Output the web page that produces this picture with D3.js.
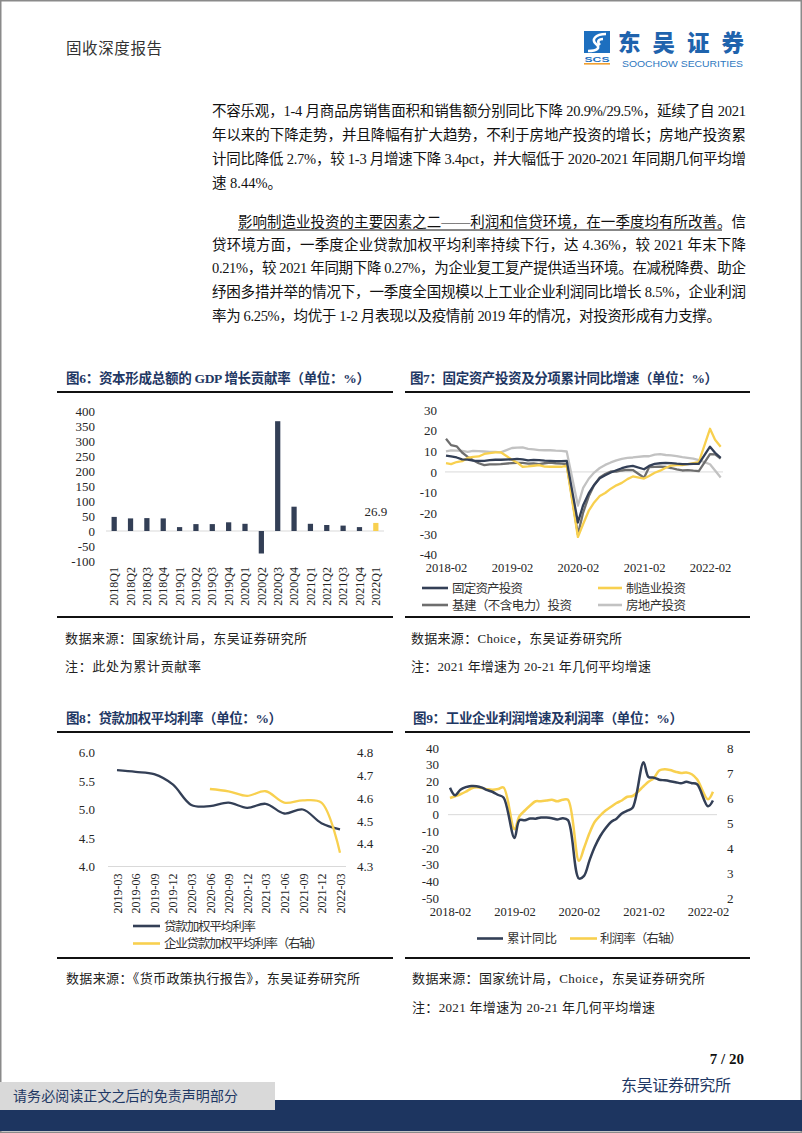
<!DOCTYPE html>
<html><head><meta charset="utf-8">
<script src="https://cdn.jsdelivr.net/npm/d3@7"></script>
<style>body{margin:0;background:#fff}svg{display:block}</style>
</head><body>
<svg id="page" width="802" height="1133"></svg>
<script>
// ---------------- DATA ----------------
const gdpCategories = ["2018Q1","2018Q2","2018Q3","2018Q4","2019Q1","2019Q2","2019Q3","2019Q4","2020Q1","2020Q2","2020Q3","2020Q4","2021Q1","2021Q2","2021Q3","2021Q4","2022Q1"];
const gdpValues = [47,42,43,42,13,23,23,29,24,-75,366,81,24,20,18,13,26.9];
const gdpTicks = [-100,-50,0,50,100,150,200,250,300,350,400];

const faiMonths = ["2018-02","2018-03","2018-04","2018-05","2018-06","2018-07","2018-08","2018-09","2018-10","2018-11","2018-12",
"2019-02","2019-03","2019-04","2019-05","2019-06","2019-07","2019-08","2019-09","2019-10","2019-11","2019-12",
"2020-02","2020-03","2020-04","2020-05","2020-06","2020-07","2020-08","2020-09","2020-10","2020-11","2020-12",
"2021-02","2021-03","2021-04","2021-05","2021-06","2021-07","2021-08","2021-09","2021-10","2021-11","2021-12",
"2022-02","2022-03","2022-04"];
const faiTotal = [7.9,7.5,7.0,6.1,6.0,5.5,5.3,5.4,5.7,5.9,5.9,
6.1,6.3,6.1,5.6,5.8,5.7,5.5,5.4,5.2,5.2,5.4,
-24.5,-16.1,-10.3,-6.3,-3.1,-1.6,-0.3,0.8,1.8,2.6,2.9,
1.3,2.9,3.9,4.2,4.4,4.3,4.0,3.8,3.8,3.9,3.9,
12.2,9.3,6.8];
const faiManufacturing = [4.3,3.8,4.8,5.2,6.8,7.3,7.5,8.7,9.1,9.5,9.5,
5.9,4.6,2.5,2.7,3.0,3.3,2.6,2.5,2.6,2.5,3.1,
-31.5,-25.2,-18.8,-14.8,-11.7,-10.2,-8.1,-6.5,-5.3,-3.5,-2.2,
-3.2,-2.0,-0.4,0.6,2.0,3.1,3.3,3.3,3.8,4.3,4.8,
20.9,15.6,12.2];
const faiInfra = [16.1,13.0,12.4,9.4,7.3,5.7,4.2,3.3,3.7,3.7,3.8,
4.3,4.4,4.4,4.0,4.1,3.8,4.2,4.5,4.2,4.0,3.8,
-30.3,-19.7,-11.8,-6.3,-2.7,-1.0,0.2,0.2,0.7,1.0,0.9,
-2.8,2.3,2.4,2.6,2.4,1.9,1.2,0.7,0.9,0.6,0.4,
8.6,8.5,6.5];
const faiRealEstate = [9.9,10.4,10.3,10.2,9.7,10.2,10.1,9.9,9.7,9.7,9.5,
11.6,11.8,11.9,11.2,10.9,10.6,10.5,10.5,10.3,10.2,9.9,
-16.3,-7.7,-3.3,-0.3,1.9,3.4,4.6,5.6,6.3,6.8,7.0,
7.6,7.6,8.4,8.6,8.2,8.0,7.7,7.2,6.8,6.4,5.7,
3.7,0.7,-2.7];
const faiTicks = [-40,-30,-20,-10,0,10,20,30];
const yearTickLabels = ["2018-02","2019-02","2020-02","2021-02","2022-02"];

const rateQuarters = ["2019-03","2019-06","2019-09","2019-12","2020-03","2020-06","2020-09","2020-12","2021-03","2021-06","2021-09","2021-12","2022-03"];
const loanRate = [5.69,5.66,5.62,5.44,5.08,5.06,5.12,5.03,5.10,4.93,5.00,4.76,4.65];
const corpLoanRate = [null,null,null,null,null,4.64,4.63,4.61,4.63,4.58,4.59,4.58,4.36];
const rateTicksLeft = [4.0,4.5,5.0,5.5,6.0];
const rateTicksRight = [4.3,4.4,4.5,4.6,4.7,4.8];

const profitMonths = ["2018-02","2018-03","2018-04","2018-05","2018-06","2018-07","2018-08","2018-09","2018-10","2018-11","2018-12",
"2019-02","2019-03","2019-04","2019-05","2019-06","2019-07","2019-08","2019-09","2019-10","2019-11","2019-12",
"2020-02","2020-03","2020-04","2020-05","2020-06","2020-07","2020-08","2020-09","2020-10","2020-11","2020-12",
"2021-02","2021-03","2021-04","2021-05","2021-06","2021-07","2021-08","2021-09","2021-10","2021-11","2021-12",
"2022-02","2022-03"];
const profitYoY = [16.1,11.6,15.0,16.5,17.2,17.1,16.2,14.7,13.6,11.8,10.3,
-14.0,-3.3,-3.4,-2.3,-2.4,-1.7,-1.7,-2.1,-2.9,-2.1,-3.3,
-38.3,-36.7,-27.4,-19.3,-12.8,-8.1,-4.4,-2.4,0.7,2.4,4.1,
31.4,22.6,22.2,21.0,20.6,20.1,19.5,18.8,19.7,18.9,18.2,
5.0,8.5];
const profitMargin = [6.0,6.07,6.15,6.25,6.38,6.43,6.4,6.35,6.33,6.36,6.42,
4.75,5.27,5.5,5.7,5.87,5.87,5.9,5.93,5.87,5.93,5.93,
3.49,4.0,4.6,5.05,5.3,5.5,5.65,5.8,5.9,6.05,6.08,
6.47,6.65,6.8,7.1,7.15,7.12,7.05,7.0,7.02,6.95,6.75,
5.95,6.25];
const profitTicksLeft = [-50,-40,-30,-20,-10,0,10,20,30,40];
const profitTicksRight = [2,3,4,5,6,7,8];

const bodyLines = [
 "不容乐观，1-4 月商品房销售面积和销售额分别同比下降 20.9%/29.5%，延续了自 2021",
 "年以来的下降走势，并且降幅有扩大趋势，不利于房地产投资的增长；房地产投资累",
 "计同比降低 2.7%，较 1-3 月增速下降 3.4pct，并大幅低于 2020-2021 年同期几何平均增",
 "速 8.44%。",
 "影响制造业投资的主要因素之二——利润和信贷环境，在一季度均有所改善。信",
 "贷环境方面，一季度企业贷款加权平均利率持续下行，达 4.36%，较 2021 年末下降",
 "0.21%，较 2021 年同期下降 0.27%，为企业复工复产提供适当环境。在减税降费、助企",
 "纾困多措并举的情况下，一季度全国规模以上工业企业利润同比增长 8.5%，企业利润",
 "率为 6.25%，均优于 1-2 月表现以及疫情前 2019 年的情况，对投资形成有力支撑。"
];

// ---------------- STYLE ----------------
const FONT = '"Liberation Serif","Times New Roman","Noto Sans CJK SC",serif';
const NAVY = "#333f56", YELLOW = "#f8d04f", DGREY = "#6e6e6e", LGREY = "#c2c2c2", TITLE = "#1f3864";
const svg = d3.select("#page");
const parseM = d3.timeParse("%Y-%m");
const plain = d => String(d);   // keeps the ASCII hyphen for negatives, as in the reference

// page border
svg.append("rect").attr("x",0.75).attr("y",0.75).attr("width",800.5).attr("height",1131.5)
  .attr("fill","none").attr("stroke","#8a8a8a").attr("stroke-width",1.5);

// ---------------- HEADER ----------------
svg.append("text").attr("x",66).attr("y",54).attr("font-family",FONT).attr("font-size",15.5)
  .attr("fill","#333").attr("textLength",96).attr("lengthAdjust","spacing").text("固收深度报告");
// logo
const logo = svg.append("g");
logo.append("rect").attr("x",584).attr("y",31).attr("width",26).attr("height",22).attr("fill","#1d6fbf");
logo.append("path").attr("d","M606,34 C595,34 591,40 596,44 C601,48 597,51 588,51 M603,39 C598,39 597,42 600,45")
  .attr("fill","none").attr("stroke","#fff").attr("stroke-width",2.6);
logo.append("text").attr("x",597).attr("y",61.5).attr("text-anchor","middle").attr("font-family","Liberation Sans,sans-serif")
  .attr("font-weight",700).attr("font-size",7.5).attr("fill","#1d6fbf").attr("textLength",25).attr("lengthAdjust","spacingAndGlyphs").text("SCS");
logo.append("rect").attr("x",584).attr("y",63).attr("width",26).attr("height",1.6).attr("fill","#f0a030");
logo.append("text").attr("x",618).attr("y",51).attr("font-family","Noto Sans CJK SC").attr("font-weight",900)
  .attr("font-size",22.5).attr("fill","#1f63ad").attr("textLength",126).attr("lengthAdjust","spacing").text("东吴证券");
logo.append("text").attr("x",622).attr("y",66.5).attr("font-family","Liberation Sans,sans-serif")
  .attr("font-size",9.5).attr("fill","#2e78c0").attr("textLength",121).attr("lengthAdjust","spacingAndGlyphs").text("SOOCHOW SECURITIES");

// ---------------- BODY ----------------
const bodyY = [115.5,139.5,163.5,187.5,226.5,249.5,272.5,296.5,320.5];
const bodyX = [212,212,212,212,238,212,212,212,212];
const bodyEnd = [746,746,746,null,746,746,746,746,721];
bodyLines.forEach((s,i)=>{
  const t = svg.append("text").attr("x",bodyX[i]).attr("y",bodyY[i]).attr("font-family",FONT)
    .attr("font-size",14.5).attr("fill","#111").text(s);
  if (bodyEnd[i]) t.attr("textLength",bodyEnd[i]-bodyX[i]).attr("lengthAdjust","spacing");
});
svg.append("line").attr("x1",238).attr("x2",722).attr("y1",230).attr("y2",230).attr("stroke","#111").attr("stroke-width",1);

// ---------------- helpers ----------------
function title(x,y,str,len){
  svg.append("text").attr("x",x).attr("y",y).attr("font-family",FONT).attr("font-weight",700)
    .attr("font-size",13.5).attr("fill",TITLE).attr("textLength",len).attr("lengthAdjust","spacing").text(str);
}
function hrule(x1,x2,y){
  svg.append("line").attr("x1",x1).attr("x2",x2).attr("y1",y).attr("y2",y).attr("stroke","#111").attr("stroke-width",2);
}
function note(x,y,str,len){
  svg.append("text").attr("x",x).attr("y",y).attr("font-family",FONT).attr("font-size",13)
    .attr("fill","#222").attr("textLength",len).attr("lengthAdjust","spacing").text(str);
}
function styleAxis(g,size){
  g.attr("font-family",FONT).attr("font-size",size||13);
  g.select(".domain").remove();
  g.selectAll("text").attr("fill","#262626");
}
function legend(x1,x2,y,color,str,tx,len){
  svg.append("line").attr("x1",x1).attr("x2",x2).attr("y1",y).attr("y2",y).attr("stroke",color).attr("stroke-width",2.6);
  svg.append("text").attr("x",tx).attr("y",y+4.5).attr("font-family",FONT).attr("font-size",12.5)
    .attr("fill","#333").attr("textLength",len).attr("lengthAdjust","spacing").text(str);
}

// ---------------- CHART 6 ----------------
title(66,383,"图6：资本形成总额的 GDP 增长贡献率（单位：%）",304);
hrule(57,393,392); hrule(57,393,617);
const x6 = d3.scaleBand().domain(gdpCategories).range([106,384]).paddingInner(0.68).paddingOuter(0.34);
const y6 = d3.scaleLinear().domain([-100,400]).range([561,411]);
svg.append("line").attr("x1",106).attr("x2",384).attr("y1",y6(0)).attr("y2",y6(0)).attr("stroke","#d9d9d9").attr("stroke-width",1);
svg.append("g").selectAll("rect").data(gdpValues).join("rect")
  .attr("x",(d,i)=>x6(gdpCategories[i])).attr("width",x6.bandwidth())
  .attr("y",d=>y6(Math.max(0,d))).attr("height",d=>Math.abs(y6(d)-y6(0)))
  .attr("fill",(d,i)=>i===gdpValues.length-1?YELLOW:NAVY);
const lastI = gdpValues.length-1;
svg.append("text").attr("x",x6(gdpCategories[lastI])+x6.bandwidth()/2).attr("y",y6(gdpValues[lastI])-7)
  .attr("text-anchor","middle").attr("font-family",FONT).attr("font-size",13).attr("fill","#262626").text(gdpValues[lastI]);
const ya6 = svg.append("g").attr("transform","translate(106,0)").call(d3.axisLeft(y6).tickValues(gdpTicks).tickFormat(plain).tickSize(0).tickPadding(11));
styleAxis(ya6,13);
const xa6 = svg.append("g").attr("transform",`translate(0,${y6(-100)})`).call(d3.axisBottom(x6).tickSize(0));
styleAxis(xa6,12);
xa6.selectAll("text").attr("transform","rotate(-90)").attr("text-anchor","end").attr("x",-6).attr("y",0).attr("dy","0.35em");

// ---------------- CHART 7 ----------------
title(410,383,"图7：固定资产投资及分项累计同比增速（单位：%）",308);
hrule(405,750,392); hrule(405,750,617);
const x7 = d3.scaleTime().domain([parseM("2018-02"),parseM("2022-02")]).range([446,710]);
const y7 = d3.scaleLinear().domain([-40,30]).range([554.5,410]);
svg.append("line").attr("x1",445).attr("x2",723).attr("y1",y7(0)).attr("y2",y7(0)).attr("stroke","#d9d9d9").attr("stroke-width",1);
const ln7 = d3.line().x((d,i)=>x7(parseM(faiMonths[i]))).y(d=>y7(d));
[[faiRealEstate,LGREY],[faiInfra,DGREY],[faiManufacturing,YELLOW],[faiTotal,NAVY]].forEach(([arr,c])=>{
  svg.append("path").datum(arr).attr("d",ln7).attr("fill","none").attr("stroke",c).attr("stroke-width",2.3).attr("stroke-linejoin","round");
});
const ya7 = svg.append("g").attr("transform","translate(445,0)").call(d3.axisLeft(y7).tickValues(faiTicks).tickFormat(plain).tickSize(0).tickPadding(8));
styleAxis(ya7,13);
const xa7 = svg.append("g").attr("transform",`translate(0,${y7(-40)})`)
  .call(d3.axisBottom(x7).tickValues(yearTickLabels.map(parseM)).tickFormat(d3.timeFormat("%Y-%m")).tickSize(0).tickPadding(9));
styleAxis(xa7,12.5);
legend(422,448,588,NAVY,"固定资产投资",452,71);
legend(598,622,588,YELLOW,"制造业投资",626,60);
legend(422,448,605,DGREY,"基建（不含电力）投资",452,120);
legend(598,622,605,LGREY,"房地产投资",626,60);

note(65,642.5,"数据来源：国家统计局，东吴证券研究所",242);
note(65,671,"注：此处为累计贡献率",136);
note(411,642.5,"数据来源：Choice，东吴证券研究所",211);
note(411,671,"注：2021 年增速为 20-21 年几何平均增速",240);

// ---------------- CHART 8 ----------------
title(66,723,"图8：贷款加权平均利率（单位：%）",216);
hrule(57,393,732); hrule(57,393,958);
const x8 = d3.scalePoint().domain(rateQuarters).range([117,340]);
const yl8 = d3.scaleLinear().domain([4,6]).range([866.5,752.5]);
const yr8 = d3.scaleLinear().domain([4.3,4.8]).range([866.5,752.5]);
svg.append("line").attr("x1",108).attr("x2",346).attr("y1",866.5).attr("y2",866.5).attr("stroke","#d9d9d9").attr("stroke-width",1.2);
svg.append("path").datum(loanRate).attr("fill","none").attr("stroke",NAVY).attr("stroke-width",2.3)
  .attr("d",d3.line().x((d,i)=>x8(rateQuarters[i])).y(d=>yl8(d)).curve(d3.curveCatmullRom.alpha(0.5)));
svg.append("path").datum(corpLoanRate).attr("fill","none").attr("stroke",YELLOW).attr("stroke-width",2.3)
  .attr("d",d3.line().defined(d=>d!=null).x((d,i)=>x8(rateQuarters[i])).y(d=>yr8(d)).curve(d3.curveCatmullRom.alpha(0.5)));
const yl8a = svg.append("g").attr("transform","translate(108,0)").call(d3.axisLeft(yl8).tickValues(rateTicksLeft).tickFormat(d3.format(".1f")).tickSize(0).tickPadding(13));
styleAxis(yl8a,13);
const yr8a = svg.append("g").attr("transform","translate(345,0)").call(d3.axisRight(yr8).tickValues(rateTicksRight).tickFormat(d3.format(".1f")).tickSize(0).tickPadding(12));
styleAxis(yr8a,13);
const xa8 = svg.append("g").attr("transform","translate(0,866.5)").call(d3.axisBottom(x8).tickSize(0));
styleAxis(xa8,12);
xa8.selectAll("text").attr("transform","rotate(-90)").attr("text-anchor","end").attr("x",-7).attr("y",0).attr("dy","0.35em");
legend(133,160,926,NAVY,"贷款加权平均利率",164,92);
legend(133,160,943.5,YELLOW,"企业贷款加权平均利率（右轴）",164,159);

// ---------------- CHART 9 ----------------
title(413,723,"图9：工业企业利润增速及利润率（单位：%）",270);
hrule(405,750,732); hrule(405,750,958);
const x9 = d3.scaleTime().domain([parseM("2018-02"),parseM("2022-02")]).range([450,708]);
const yl9 = d3.scaleLinear().domain([-50,40]).range([898,748]);
const yr9 = d3.scaleLinear().domain([2,8]).range([898,748]);
svg.append("line").attr("x1",448).attr("x2",717).attr("y1",yl9(0)).attr("y2",yl9(0)).attr("stroke","#d9d9d9").attr("stroke-width",1);
svg.append("path").datum(profitMargin).attr("fill","none").attr("stroke",YELLOW).attr("stroke-width",2.5)
  .attr("d",d3.line().x((d,i)=>x9(parseM(profitMonths[i]))).y(d=>yr9(d)).curve(d3.curveCatmullRom.alpha(0.5)));
svg.append("path").datum(profitYoY).attr("fill","none").attr("stroke",NAVY).attr("stroke-width",2.5)
  .attr("d",d3.line().x((d,i)=>x9(parseM(profitMonths[i]))).y(d=>yl9(d)).curve(d3.curveCatmullRom.alpha(0.5)));
const yl9a = svg.append("g").attr("transform","translate(448,0)").call(d3.axisLeft(yl9).tickValues(profitTicksLeft).tickFormat(plain).tickSize(0).tickPadding(9));
styleAxis(yl9a,13);
const yr9a = svg.append("g").attr("transform","translate(717,0)").call(d3.axisRight(yr9).tickValues(profitTicksRight).tickFormat(plain).tickSize(0).tickPadding(10));
styleAxis(yr9a,13);
const xa9 = svg.append("g").attr("transform","translate(0,898)")
  .call(d3.axisBottom(x9).tickValues(yearTickLabels.map(parseM)).tickFormat(d3.timeFormat("%Y-%m")).tickSize(0).tickPadding(9));
styleAxis(xa9,12.5);
legend(477,503,938.5,NAVY,"累计同比",507,50);
legend(570,597,938.5,YELLOW,"利润率（右轴）",600,82);

note(66,983,"数据来源：《货币政策执行报告》，东吴证券研究所",294);
note(412,983,"数据来源：国家统计局，Choice，东吴证券研究所",293);
note(412,1011.5,"注：2021 年增速为 20-21 年几何平均增速",243);

// ---------------- FOOTER ----------------
svg.append("text").attr("x",744).attr("y",1063.5).attr("text-anchor","end").attr("font-family",FONT)
  .attr("font-weight",700).attr("font-size",15).attr("fill","#111").text("7 / 20");
svg.append("text").attr("x",621).attr("y",1091).attr("font-family",FONT).attr("font-size",16)
  .attr("fill",TITLE).attr("textLength",110).attr("lengthAdjust","spacing").text("东吴证券研究所");
svg.append("rect").attr("x",0).attr("y",1100).attr("width",802).attr("height",31).attr("fill","#1d3560");
svg.append("rect").attr("x",0).attr("y",1082).attr("width",275).attr("height",28).attr("fill","#d9d9d9");
svg.append("text").attr("x",13).attr("y",1101).attr("font-family",FONT).attr("font-size",14)
  .attr("fill",TITLE).attr("textLength",225).attr("lengthAdjust","spacing").text("请务必阅读正文之后的免责声明部分");
</script>
</body></html>
